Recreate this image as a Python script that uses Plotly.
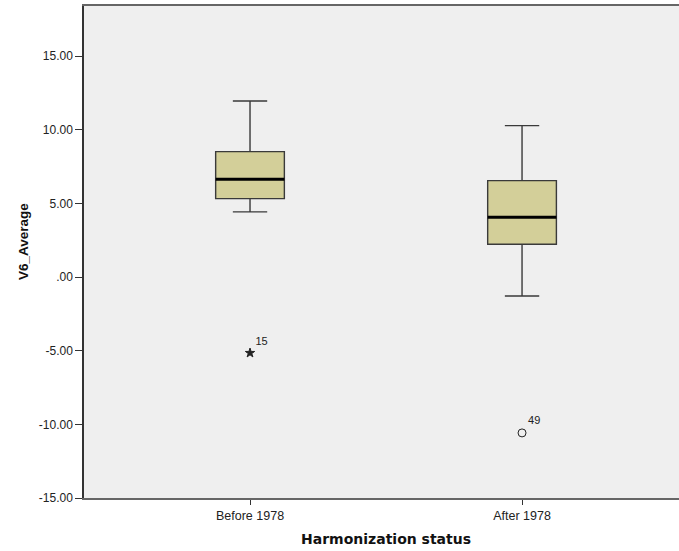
import plotly.graph_objects as go

categories = ["Before 1978", "After 1978"]
lower_whisker = [4.43, -1.28]
q1_vals = [5.33, 2.23]
medians = [6.64, 4.07]
q3_vals = [8.52, 6.55]
upper_whisker = [11.96, 10.29]
outlier_vals = [-5.15, -10.58]
outlier_ids = ["15", "49"]
outlier_symbols = ["star", "circle-open"]
y_ticks = [-15, -10, -5, 0, 5, 10, 15]
y_tick_text = ["-15.00", "-10.00", "-5.00", ".00", "5.00", "10.00", "15.00"]

BOX_W = 0.2526
pos = list(range(len(categories)))

fig = go.Figure()
for i in pos:
    fig.add_trace(go.Box(
        x=[i], q1=[q1_vals[i]], median=[medians[i]], q3=[q3_vals[i]],
        lowerfence=[lower_whisker[i]], upperfence=[upper_whisker[i]],
        width=BOX_W, whiskerwidth=0.5, fillcolor="#D3CF99",
        line=dict(color="#3a3a3a", width=1.4), boxpoints=False,
        showlegend=False, hoverinfo="skip"))
    fig.add_trace(go.Scatter(
        x=[i - BOX_W / 2, i + BOX_W / 2], y=[medians[i], medians[i]],
        mode="lines", line=dict(color="#000000", width=3),
        showlegend=False, hoverinfo="skip"))
    fig.add_trace(go.Scatter(
        x=[i], y=[outlier_vals[i]], mode="markers+text",
        marker=dict(symbol=outlier_symbols[i], size=8 if i == 1 else 7,
                    color="#222222", line=dict(color="#222222", width=1)),
        text=[outlier_ids[i]], textposition="top right",
        textfont=dict(family="Liberation Sans, Arial", size=11, color="#222222"),
        showlegend=False, hoverinfo="skip"))

fig.update_layout(
    width=679, height=551,
    margin=dict(l=84, r=0, t=6, b=53),
    paper_bgcolor="white", plot_bgcolor="#EFEFEF",
    font=dict(family="Liberation Sans, Arial", size=12, color="#222222"),
    xaxis=dict(range=[-0.6103, 1.577], tickvals=pos, ticktext=categories,
               showgrid=False, zeroline=False, showline=True, mirror=True,
               linecolor="#666666", linewidth=2, ticks="outside", ticklen=5,
               tickcolor="#333333", tickfont=dict(size=12.5)),
    yaxis=dict(range=[-15, 18.41], tickvals=y_ticks, ticktext=y_tick_text,
               showgrid=False, zeroline=False, showline=True,
               linecolor="#333333", linewidth=1.5, ticks="outside", ticklen=7,
               tickcolor="#333333", tickfont=dict(size=12)),
    annotations=[
        dict(text="<b>Harmonization status</b>", xref="paper", yref="paper",
             x=0.5 + 4 / 595, y=0, yanchor="middle", xanchor="center",
             yshift=-41, showarrow=False,
             font=dict(family="DejaVu Sans", size=14, color="#111111")),
        dict(text="<b>V6_Average</b>", xref="paper", yref="paper",
             x=0, y=0.5, xanchor="center", yanchor="middle", xshift=-61,
             yshift=10, textangle=-90, showarrow=False,
             font=dict(family="Liberation Sans, Arial", size=13.5, color="#111111")),
    ],
)

fig.write_html("out.html")
